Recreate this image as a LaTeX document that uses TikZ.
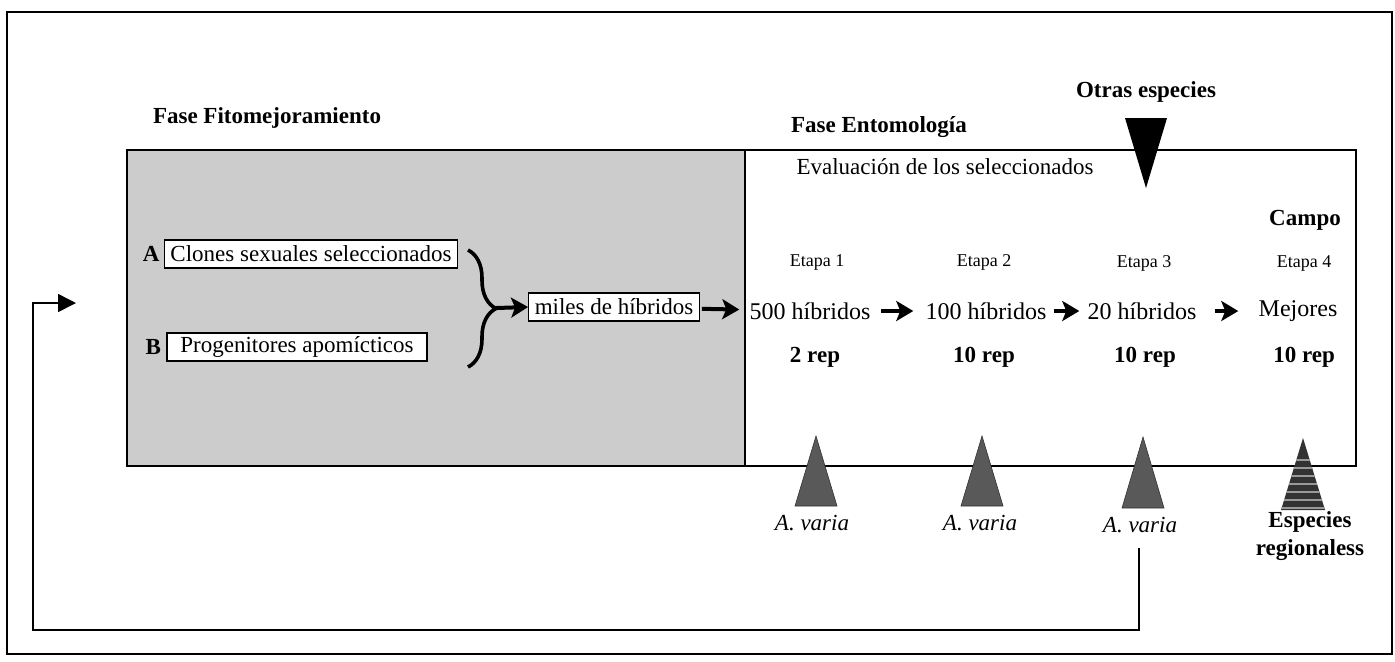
\documentclass[tikz,border=0pt]{standalone}
\usepackage{fontspec}
\setmainfont{Liberation Serif}
\usetikzlibrary{arrows.meta,decorations.pathreplacing,positioning}
\begin{document}
\begin{tikzpicture}[x=0.5pt,y=-0.5pt,
  txt/.style={font=\fontsize{11.5}{14}\selectfont, inner sep=1pt},
  bld/.style={font=\fontsize{11.5}{14}\selectfont\bfseries, inner sep=1pt},
  ital/.style={font=\fontsize{11.5}{14}\selectfont\itshape, inner sep=1pt},
  hyb/.style={font=\fontsize{12}{14}\selectfont, inner sep=1pt},
  etapa/.style={font=\fontsize{9}{11}\selectfont, inner sep=1pt},
  boxed/.style={txt, draw, fill=white, line width=0.7pt, minimum height=14pt, inner xsep=3pt},
  bigarr/.style={line width=2pt, -{Stealth[length=8.5pt,width=10pt,inset=2pt]}},
  frame/.style={line width=1pt},
  ins/.style={fill=black!65, draw=black!80, line width=0.3pt},
  retline/.style={line width=0.8pt, -{Triangle[length=9pt,width=9pt]}}
]
\useasboundingbox (0,0) rectangle (1395,661);
% frames
\draw[frame] (7,12) rectangle (1392,654);
\draw[line width=0.7pt, fill=black!20] (127,150) rectangle (745,466);
\draw[line width=0.7pt] (745,150) -- (1356,150) -- (1356,466) -- (745,466);
% titles
\node[bld] (t1) at (267,118) {Fase Fitomejoramiento};
\node[bld] (t2) at (879,127) {Fase Entomología};
\node[bld] (t3) at (1146,92) {Otras especies};
\fill (1125,118) -- (1167,118) -- (1146,188) -- cycle;
\node[txt] (ev) at (945,167) {Evaluación de los seleccionados};
% breeding phase
\node[boxed, minimum width=146pt] (A) at (311,254) {Clones sexuales seleccionados};
\node[bld, anchor=east] (Alab) at ([xshift=-1pt]A.west) {A};
\node[boxed, minimum width=130pt] (B) at (297,347) {Progenitores apomícticos};
\node[bld, anchor=east] (Blab) at ([xshift=-1.5pt]B.west) {B};
\draw[line width=1.8pt, decorate, decoration={brace, amplitude=14pt}] (468,250) -- (468,367);
\coordinate (bt) at (496,308);
\node[boxed, minimum width=84pt] (M) at (614,307) {miles de híbridos};
\draw[bigarr] (bt) -- (M.west);
% stages
\node[etapa] (e1) at (817,262) {Etapa 1};
\node[etapa] (e2) at (984,262) {Etapa 2};
\node[etapa] (e3) at (1144,263) {Etapa 3};
\node[etapa] (e4) at (1304,263) {Etapa 4};
\node[bld] (campo) at (1305,220) {Campo};
\node[hyb] (h1) at (810,311) {500 híbridos};
\node[hyb] (h2) at (986,311) {100 híbridos};
\node[hyb] (h3) at (1142,311) {20 híbridos};
\node[hyb] (h4) at (1298,311) {Mejores};
\draw[bigarr, shorten <=1pt, shorten >=4pt] (M) -- (h1);
\draw[bigarr, shorten <=4pt, shorten >=5pt] (h1) -- (h2);
\draw[bigarr, shorten <=2.5pt, shorten >=3pt] (h2) -- (h3);
\draw[bigarr, shorten <=8pt, shorten >=9pt] (h3) -- (h4);
\node[bld] (r1) at (815,357) {2 rep};
\node[bld] (r2) at (984,357) {10 rep};
\node[bld] (r3) at (1145,357) {10 rep};
\node[bld] (r4) at (1304,357) {10 rep};
% insects
\path[ins] (816,436) -- (837,506) -- (795,506) -- cycle;
\path[ins] (982,436) -- (1003,506) -- (961,506) -- cycle;
\path[ins] (1143,437) -- (1164,508) -- (1122,508) -- cycle;
\begin{scope}
\clip (1303,438) -- (1325,510) -- (1281,510) -- cycle;
\fill[black!80] (1270,430) rectangle (1340,515);
\foreach \yy in {460,468,...,508} \draw[black!40, line width=0.6pt] (1270,\yy) -- (1340,\yy);
\end{scope}
\node[ital] (v1) at (812,523) {A. varia};
\node[ital] (v2) at (980,523) {A. varia};
\node[ital] (v3) at (1140,525) {A. varia};
\node[bld, align=center] (esp) at (1310,536) {Especies\\regionaless};
% return line
\coordinate (r0) at (1139,548);
\coordinate (rt) at (76,303);
\draw[retline] (r0) -- (1139,630) -- (33,630) -- (33,303) -- (rt);
\end{tikzpicture}
\end{document}
